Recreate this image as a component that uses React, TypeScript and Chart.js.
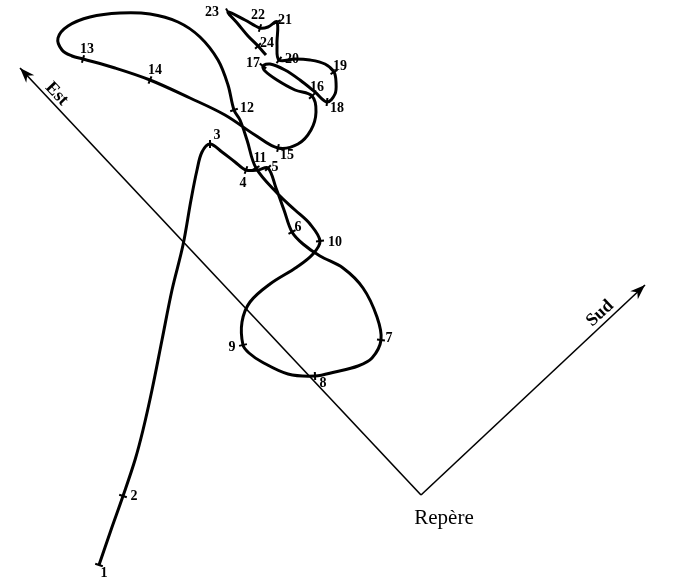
import { useEffect, useRef } from "react";
import { Chart, registerables } from "chart.js";

Chart.register(...registerables);

// Trajectory (plan coordinates, same units as the sketch; y grows downward)
const pathX = [
  99, 111, 123, 135, 143, 152, 162, 172, 183, 191, 197, 202, 210,
  222, 235, 246, 258, 268, 276, 284, 292,
  303, 320, 343, 363, 377, 381, 372, 358, 335, 315,
  288, 262, 249, 243, 242, 250, 270, 297, 313, 320,
  310, 295, 278, 256, 247, 240, 234,
  228, 218, 200, 178, 150, 120, 90, 68, 58, 62, 72, 83,
  115, 150, 190, 225, 255, 278,
  298, 311, 316, 312, 295, 277, 265, 263,
  270, 285, 300, 315, 327, 335, 336, 334,
  325, 310, 295, 279, 277, 277, 268, 260, 245, 228,
  238, 248, 258, 266,
];
const pathY = [
  565, 530, 496, 460, 430, 390, 340, 290, 245, 200, 170, 152, 144,
  152, 162, 170, 170, 168, 188, 210, 232,
  244, 256, 268, 288, 317, 340, 358, 366, 372, 376,
  374, 362, 353, 345, 322, 302, 284, 267, 254, 241,
  224, 210, 194, 168, 140, 120, 110,
  85, 60, 37, 22, 14, 13, 17, 26, 38, 50, 56, 59,
  68, 80, 98, 115, 135, 148,
  144, 130, 112, 96, 90, 80, 71, 66,
  64, 70, 80, 92, 102, 94, 82, 72,
  64, 60, 59, 60, 45, 22, 27, 28, 20, 12,
  24, 36, 46, 55,
];

// Numbered stations along the trajectory
const stationLabels = [
  "1", "2", "3", "4", "5", "6", "7", "8", "9", "10", "11", "12",
  "13", "14", "15", "16", "17", "18", "19", "20", "21", "22", "23", "24",
];
const stationPathIndex = [
  0, 2, 12, 15, 17, 20, 26, 30, 34, 40, 44, 47,
  59, 61, 65, 69, 73, 78, 81, 85, 87, 89, 91, 94,
];

// Reference frame
const repereX = 421;
const repereY = 495;
const estTipX = 20;
const estTipY = 68;
const sudTipX = 645;
const sudTipY = 285;
const axisNames = ["Est", "Sud"];
const repereLabel = "Repère";

// label placement (pixels, layout only)
const labelOffsets = [
  [5, 8], [11, 0], [7, -9], [-3, 13], [7, -1], [6, -5], [8, -2], [8, 7],
  [-11, 2], [15, 1], [4, -10], [13, -2], [4, -10], [5, -10], [9, 7], [5, -9],
  [-10, -3], [10, 6], [6, -6], [13, -1], [8, -2], [-2, -13], [-16, 0], [9, -3],
];

const annotPlugin = {
  id: "annot",
  afterDatasetsDraw(chart: any) {
    const ctx = chart.ctx as CanvasRenderingContext2D;
    const xs = chart.scales.x;
    const ys = chart.scales.y;
    const px = (v: number) => xs.getPixelForValue(v);
    const py = (v: number) => ys.getPixelForValue(v);

    const rx = px(repereX), ry = py(repereY);
    const tips = [
      [px(estTipX), py(estTipY)],
      [px(sudTipX), py(sudTipY)],
    ];

    ctx.save();
    ctx.fillStyle = "#000";
    ctx.strokeStyle = "#000";
    // arrowheads
    for (const [tx, ty] of tips) {
      const a = Math.atan2(ty - ry, tx - rx);
      const L = 15, W = 5.5;
      const bx = tx - L * Math.cos(a), by = ty - L * Math.sin(a);
      const nx = -Math.sin(a), ny = Math.cos(a);
      ctx.beginPath();
      ctx.moveTo(tx, ty);
      ctx.lineTo(bx + nx * W, by + ny * W);
      ctx.lineTo(tx - 0.7 * L * Math.cos(a), ty - 0.7 * L * Math.sin(a));
      ctx.lineTo(bx - nx * W, by - ny * W);
      ctx.closePath();
      ctx.fill();
    }

    // axis names
    const placeAxisName = (text: string, fx: number, fy: number, tx: number, ty: number, t: number, off: number) => {
      let a = Math.atan2(ty - fy, tx - fx);
      const cx = fx + (tx - fx) * t, cy = fy + (ty - fy) * t;
      let ux = Math.sin(a), uy = -Math.cos(a);
      if (uy > 0) { ux = -ux; uy = -uy; }
      if (Math.cos(a) < 0) a += Math.PI;
      ctx.save();
      ctx.translate(cx + ux * off, cy + uy * off);
      ctx.rotate(a);
      ctx.font = "bold 18px 'Liberation Serif', serif";
      ctx.textAlign = "center";
      ctx.textBaseline = "middle";
      ctx.fillText(text, 0, 0);
      ctx.restore();
    };
    placeAxisName(axisNames[0], tips[0][0], tips[0][1], rx, ry, 0.075, 9);
    placeAxisName(axisNames[1], rx, ry, tips[1][0], tips[1][1], 0.83, 10);

    // Repère label
    ctx.font = "21px 'Liberation Serif', serif";
    ctx.textAlign = "center";
    ctx.textBaseline = "alphabetic";
    ctx.fillText(repereLabel, rx + 23, ry + 29);

    // station labels
    ctx.font = "bold 14px 'Liberation Serif', serif";
    ctx.textAlign = "center";
    ctx.textBaseline = "middle";
    stationLabels.forEach((lab, i) => {
      const k = stationPathIndex[i];
      const [dx, dy] = labelOffsets[i];
      ctx.fillText(lab, px(pathX[k]) + dx, py(pathY[k]) + dy);
    });
    ctx.restore();
  },
};

export default function App() {
  const ref = useRef<HTMLCanvasElement>(null);
  useEffect(() => {
    if (!ref.current) return;
    const traj = pathX.map((x, i) => ({ x, y: pathY[i] }));
    const stations = stationPathIndex.map((k) => ({ x: pathX[k], y: pathY[k] }));
    const rot = stationPathIndex.map((k) => {
      const a = Math.max(0, k - 1), b = Math.min(pathX.length - 1, k + 1);
      const ang = Math.atan2(pathY[b] - pathY[a], pathX[b] - pathX[a]);
      return (ang * 180) / Math.PI + 90;
    });
    const chart = new Chart(ref.current, {
      type: "scatter",
      data: {
        datasets: [
          {
            data: [{ x: repereX, y: repereY }, { x: estTipX, y: estTipY }],
            showLine: true,
            borderColor: "#000",
            borderWidth: 1.6,
            pointRadius: 0,
            tension: 0,
          },
          {
            data: [{ x: repereX, y: repereY }, { x: sudTipX, y: sudTipY }],
            showLine: true,
            borderColor: "#000",
            borderWidth: 1.6,
            pointRadius: 0,
            tension: 0,
          },
          {
            data: traj,
            showLine: true,
            borderColor: "#000",
            borderWidth: 3,
            pointRadius: 0,
            tension: 0.35,
          },
          {
            data: stations,
            showLine: false,
            pointStyle: "line",
            pointRadius: 4,
            pointBorderWidth: 2,
            pointBorderColor: "#000",
            pointBackgroundColor: "#000",
            pointRotation: rot,
          } as any,
        ],
      },
      options: {
        responsive: false,
        animation: false,
        events: [],
        layout: { padding: 0, autoPadding: false },
        plugins: { legend: { display: false }, tooltip: { enabled: false } },
        scales: {
          x: { type: "linear", min: 0, max: 690, display: false },
          y: { type: "linear", min: 0, max: 577, reverse: true, display: false },
        },
      },
      plugins: [annotPlugin],
    });
    return () => chart.destroy();
  }, []);
  return (
    <div style={{ position: "fixed", left: 0, top: 0, width: 690, height: 577, background: "#fff" }}>
      <canvas ref={ref} width={690} height={577} style={{ display: "block" }} />
    </div>
  );
}
